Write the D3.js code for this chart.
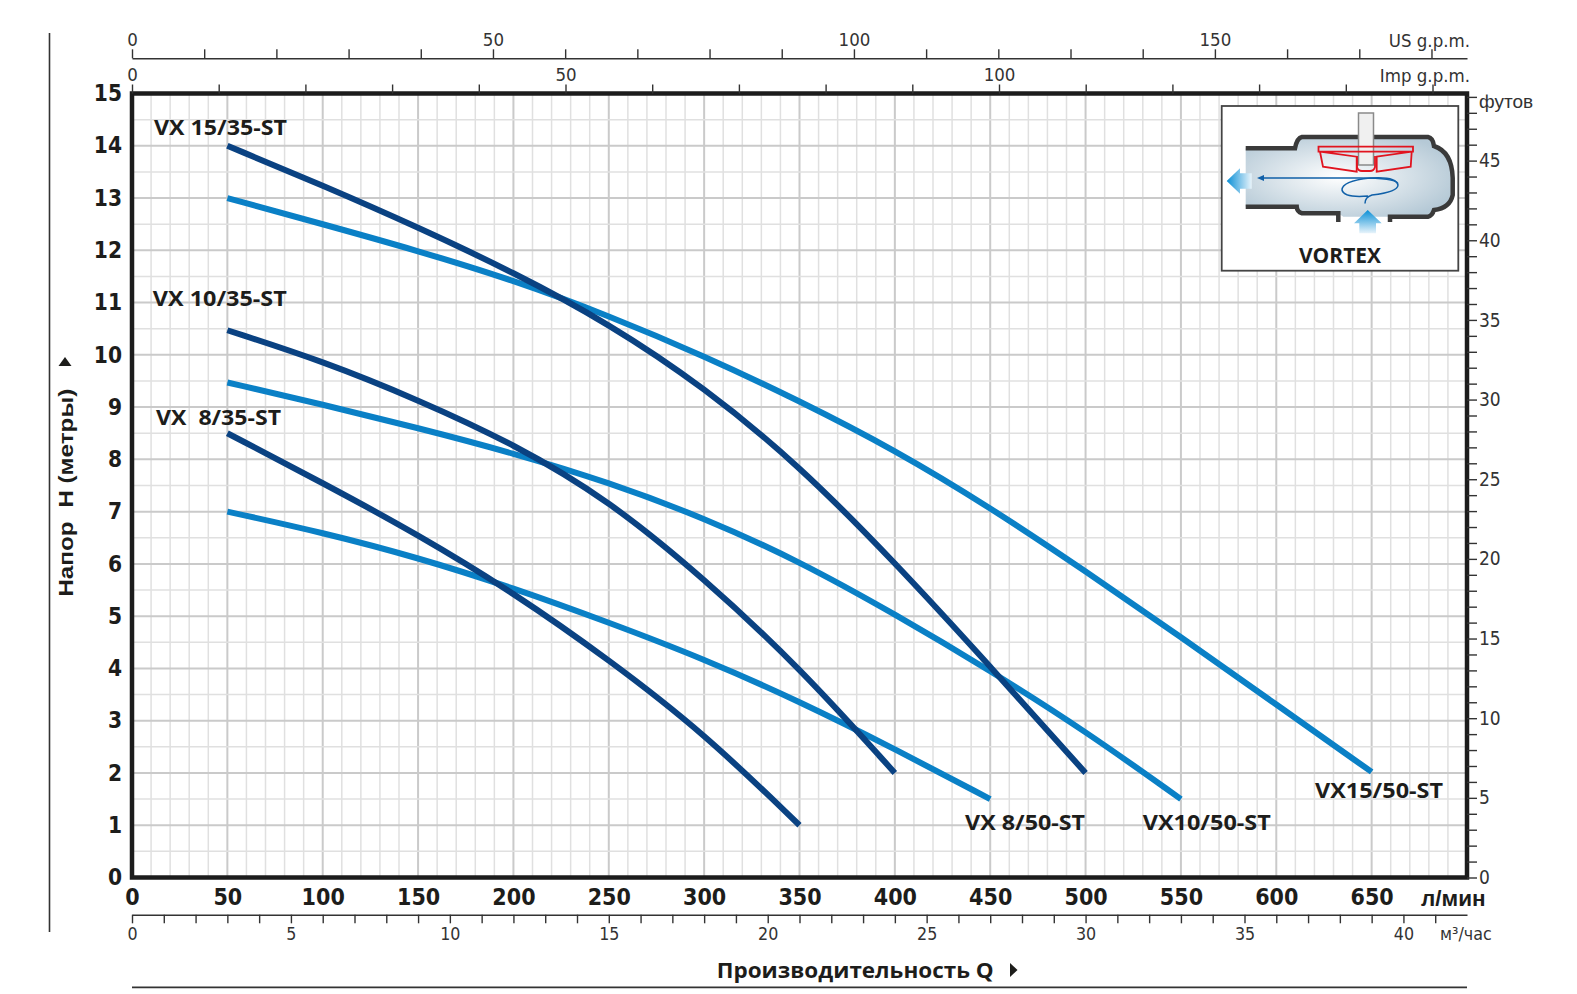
<!DOCTYPE html>
<html><head><meta charset="utf-8">
<script src="https://cdn.jsdelivr.net/npm/d3@7"></script>
<style>
body{margin:0;background:#fff;}
svg{display:block;}
.narrow{font-family:'Liberation Sans Narrow','Arial Narrow','DejaVu Sans Condensed',sans-serif;}
.pre{white-space:pre;}
</style></head>
<body><svg id="c" width="1577" height="994"></svg>
<script>
// ---------- data (flow in l/min, head in m) ----------
const qVX15_35 = [50,100,150,200,250,300,350,400,450,500];
const hVX15_35 = [14.0,13.24,12.44,11.58,10.6,9.38,7.88,6.03,4.04,2.0];
const qVX15_50 = [50,100,150,200,250,300,350,400,450,500,550,600,650];
const hVX15_50 = [13.0,12.5,11.99,11.43,10.75,9.98,9.12,8.18,7.08,5.86,4.6,3.31,2.02];
const qVX10_35 = [50,100,150,200,250,300,350,400];
const hVX10_35 = [10.47,9.88,9.14,8.3,7.22,5.72,4.02,2.0];
const qVX10_50 = [50,100,150,200,250,300,350,400,450,500,550];
const hVX10_50 = [9.47,9.05,8.6,8.12,7.56,6.88,6.05,5.04,3.96,2.8,1.5];
const qVX8_35 = [50,100,150,200,250,300,350];
const hVX8_35 = [8.5,7.55,6.56,5.45,4.17,2.76,1.0];
const qVX8_50 = [50,100,150,200,250,300,350,400,450];
const hVX8_50 = [7.0,6.6,6.12,5.54,4.88,4.18,3.37,2.46,1.5];

const seriesNames = ["VX15/50-ST","VX10/50-ST","VX 8/50-ST","VX 15/35-ST","VX 10/35-ST","VX  8/35-ST"];
const yTicksM = d3.range(0,16,1);
const xTicksLmin = d3.range(0,651,50);
const usTickLabels = [0,50,100,150];
const impTickLabels = [0,50,100];
const m3TickLabels = [0,5,10,15,20,25,30,35,40];
const ftTickLabels = [0,5,10,15,20,25,30,35,40,45];

const DARK = "#0a4282", LIGHT = "#0a80c6";

// ---------- scales ----------
const X0=132, X1=1467, Y0=877.5, Y1=93.5;
const x = d3.scaleLinear().domain([0,700]).range([X0,X1]);
const y = d3.scaleLinear().domain([0,15]).range([Y0,Y1]);
const yFt = d3.scaleLinear().domain([0,15/0.3048]).range([Y0,Y1]);
const xUS = d3.scaleLinear().domain([0,700/3.78541]).range([X0,X1]);
const xImp = d3.scaleLinear().domain([0,700/4.54609]).range([X0,X1]);
const xM3 = d3.scaleLinear().domain([0,700*60/1000]).range([X0,X1]);

const svg = d3.select("#c");
svg.append("rect").attr("width",1577).attr("height",994).attr("fill","#fff");

// ---------- grid ----------
const grid = svg.append("g");
d3.range(10,700,10).forEach(v=>{
  const major = v%50===0;
  grid.append("line").attr("x1",x(v)).attr("x2",x(v)).attr("y1",Y1).attr("y2",Y0)
    .attr("stroke",major?"#cacaca":"#e0e0e0").attr("stroke-width",major?2:1.5);
});
d3.range(0.5,15,0.5).forEach(v=>{
  const major = Number.isInteger(v);
  grid.append("line").attr("x1",X0).attr("x2",X1).attr("y1",y(v)).attr("y2",y(v))
    .attr("stroke",major?"#cacaca":"#e0e0e0").attr("stroke-width",major?2:1.5);
});

// ---------- curves ----------
const line = d3.line().x(d=>x(d.q)).y(d=>y(d.h)).curve(d3.curveBasis);
const zipS = (q,h)=>q.map((v,i)=>({q:v,h:h[i]}));
const curves = [
  {d:zipS(qVX15_50,hVX15_50),c:LIGHT},
  {d:zipS(qVX10_50,hVX10_50),c:LIGHT},
  {d:zipS(qVX8_50,hVX8_50),c:LIGHT},
  {d:zipS(qVX15_35,hVX15_35),c:DARK},
  {d:zipS(qVX10_35,hVX10_35),c:DARK},
  {d:zipS(qVX8_35,hVX8_35),c:DARK}
];
svg.append("g").selectAll("path").data(curves).join("path")
  .attr("d",d=>line(d.d)).attr("fill","none").attr("stroke",d=>d.c)
  .attr("stroke-width",6).attr("stroke-linecap","butt");

// ---------- curve labels (anchored in data space) ----------
const labelPos = [
  {t:seriesNames[0],q:620.3,h:1.52,w:128},
  {t:seriesNames[1],q:530,h:0.914,w:128},
  {t:seriesNames[2],q:436.8,h:0.914,w:120},
  {t:seriesNames[3],q:11.5,h:14.21,w:133},
  {t:seriesNames[4],q:10.9,h:10.93,w:134},
  {t:seriesNames[5],q:12.6,h:8.66,w:125}
];
svg.append("g").selectAll("text").data(labelPos).join("text")
  .attr("class","pre")
  .attr("x",d=>x(d.q)).attr("y",d=>y(d.h))
  .attr("font-family","'Open Sans',sans-serif").attr("font-weight","bold")
  .attr("font-size",22).attr("fill","#1d1d1b")
  .attr("textLength",d=>d.w).attr("lengthAdjust","spacingAndGlyphs")
  .text(d=>d.t);

// ---------- plot border ----------
svg.append("rect").attr("x",X0).attr("y",Y1).attr("width",X1-X0).attr("height",Y0-Y1)
  .attr("fill","none").attr("stroke","#1c1c1c").attr("stroke-width",4.5);

// ---------- axes ----------
function styleAxis(g,fs,weight,col){
  g.selectAll("text").attr("class","narrow").attr("font-size",fs).attr("font-weight",weight).attr("fill",col||"#1d1d1b").attr("font-family",null);
  g.selectAll(".tick line").attr("stroke","#333").attr("stroke-width",1.4);
}
// bottom l/min
const gx = svg.append("g").attr("transform",`translate(0,${Y0})`)
  .call(d3.axisBottom(x).tickValues(xTicksLmin).tickSize(0).tickPadding(11));
gx.select(".domain").remove();
styleAxis(gx,23,"bold");
svg.append("text").attr("x",1421).attr("y",906).attr("font-family","'Liberation Sans',Arial,sans-serif")
  .attr("font-weight","bold").attr("font-size",22.5).attr("fill","#1d1d1b").text("л/мин");

// left m
const gy = svg.append("g").attr("transform",`translate(${X0},0)`)
  .call(d3.axisLeft(y).tickValues(yTicksM).tickSize(0).tickPadding(10).tickFormat(d3.format("d")));
gy.select(".domain").remove();
styleAxis(gy,22.5,"bold");

// right feet
const gf = svg.append("g").attr("transform",`translate(${X1},0)`)
  .call(d3.axisRight(yFt).tickValues(d3.range(0,50,1)).tickSize(10).tickPadding(2)
    .tickFormat(d=>ftTickLabels.includes(d)?String(d):""));
gf.select(".domain").remove();
styleAxis(gf,19,"normal","#333");
gf.append("text").attr("x",12).attr("y",yFt(49)).attr("dy","0.6em")
  .attr("font-family","'Liberation Sans',Arial,sans-serif").attr("font-size",19).attr("fill","#333").text("футов");

// top US gpm
const gus = svg.append("g").attr("transform","translate(0,58.3)")
  .call(d3.axisTop(xUS).tickValues(d3.range(0,181,10)).tickSize(9).tickSizeOuter(0).tickPadding(3)
    .tickFormat(d=>usTickLabels.includes(d)?String(d):""));
gus.select(".domain").attr("stroke","#333").attr("stroke-width",1.4);
styleAxis(gus,18.5,"normal","#333");
svg.append("text").attr("class","narrow").attr("x",1470).attr("y",46.5).attr("text-anchor","end")
  .attr("font-size",18.5).attr("fill","#333").text("US g.p.m.");

// top Imp gpm
const gimp = svg.append("g").attr("transform",`translate(0,${Y1})`)
  .call(d3.axisTop(xImp).tickValues(d3.range(0,151,10)).tickSize(9).tickSizeOuter(0).tickPadding(3.5)
    .tickFormat(d=>impTickLabels.includes(d)?String(d):""));
gimp.select(".domain").remove();
styleAxis(gimp,18.5,"normal","#333");
svg.append("text").attr("class","narrow").attr("x",1470).attr("y",81.5).attr("text-anchor","end")
  .attr("font-size",18.5).attr("fill","#333").text("Imp g.p.m.");

// bottom m3/h
const gm3 = svg.append("g").attr("transform","translate(0,914.7)")
  .call(d3.axisBottom(xM3).tickValues(d3.range(0,42,1)).tickSize(8.6).tickSizeOuter(0).tickPadding(3.7)
    .tickFormat(d=>m3TickLabels.includes(d)?String(d):""));
gm3.select(".domain").attr("stroke","#333").attr("stroke-width",1.4);
styleAxis(gm3,17.7,"normal","#333");
svg.append("text").attr("class","narrow").attr("x",1440).attr("y",939.6)
  .attr("font-size",17.7).attr("fill","#333").text("м³/час");

// ---------- titles & frame lines ----------
svg.append("line").attr("x1",49.5).attr("x2",49.5).attr("y1",33).attr("y2",932).attr("stroke","#333").attr("stroke-width",1.6);
svg.append("line").attr("x1",X0).attr("x2",X1).attr("y1",987.3).attr("y2",987.3).attr("stroke","#333").attr("stroke-width",1.8);

svg.append("text").attr("x",716.7).attr("y",978).attr("font-family","'Open Sans',sans-serif")
  .attr("font-weight","bold").attr("font-size",22).attr("fill","#1d1d1b")
  .attr("textLength",277).attr("lengthAdjust","spacingAndGlyphs").text("Производительность Q");
svg.append("path").attr("d","M1010,963 L1017.5,970 L1010,977 Z").attr("fill","#1d1d1b");

svg.append("text").attr("class","pre").attr("transform","translate(72.5,596.7) rotate(-90)")
  .attr("font-family","'Liberation Sans',Arial,sans-serif").attr("font-weight","bold")
  .attr("font-size",21).attr("fill","#1d1d1b")
  .attr("textLength",208).attr("lengthAdjust","spacingAndGlyphs").text("Напор  H (метры)");
svg.append("path").attr("d","M58.5,366 L65,357 L71.5,366 Z").attr("fill","#1d1d1b");

// ---------- VORTEX inset ----------
const defs = svg.append("defs");
const rg = defs.append("radialGradient").attr("id","body").attr("cx","0.45").attr("cy","0.5").attr("r","0.6");
rg.append("stop").attr("offset","0").attr("stop-color","#ffffff");
rg.append("stop").attr("offset","1").attr("stop-color","#b5c9d6");
const ag = defs.append("linearGradient").attr("id","arrL").attr("x1","0").attr("x2","1").attr("y1","0").attr("y2","0");
ag.append("stop").attr("offset","0").attr("stop-color","#0a8fd6");
ag.append("stop").attr("offset","1").attr("stop-color","#e8f4fb");
const ag2 = defs.append("linearGradient").attr("id","arrU").attr("x1","0").attr("x2","0").attr("y1","0").attr("y2","1");
ag2.append("stop").attr("offset","0").attr("stop-color","#0a8fd6");
ag2.append("stop").attr("offset","1").attr("stop-color","#e8f4fb");

const ins = svg.append("g");
ins.append("rect").attr("x",1221.7).attr("y",106).attr("width",236.6).attr("height",164.7)
  .attr("fill","#fff").attr("stroke","#444").attr("stroke-width",1.8);
ins.append("path").attr("d","M1245.7,148.3 L1295,148.3 Q1297,138 1302,137 L1428,137 Q1433,138 1434,146 Q1452,152 1452.7,178 L1452.7,195 Q1450,208 1434,210 Q1432,216 1428,216.7 L1390,216.7 L1343.3,216.7 L1338.3,213.3 L1302,213.3 Q1297,212 1296.7,206.7 L1245.7,206.7 Z")
  .attr("fill","url(#body)");
ins.append("path").attr("d","M1245.7,148.3 L1295,148.3 Q1297,138 1302,137 L1428,137 Q1433,138 1434,146 Q1452,152 1452.7,178 L1452.7,195 Q1450,208 1434,210 Q1432,216 1428,216.7 L1390,216.7 L1390,222")
  .attr("fill","none").attr("stroke","#3a3a3a").attr("stroke-width",4.5);
ins.append("path").attr("d","M1245.7,206.7 L1296.7,206.7 Q1297,212 1302,213.3 L1338.3,213.3 L1338.3,222")
  .attr("fill","none").attr("stroke","#3a3a3a").attr("stroke-width",4.5);
ins.append("rect").attr("x",1358.5).attr("y",113).attr("width",15).attr("height",52)
  .attr("fill","#f0f0f0").attr("stroke","#8a8a8a").attr("stroke-width",1.5);
ins.append("path").attr("d","M1318.5,146.7 L1413,146.7 L1413,151.7 L1318.5,151.7 Z M1320,151.7 L1356.7,156.7 L1356.7,171.7 L1323,166.7 Z M1376.7,156.7 L1411.7,151.7 L1410.7,166.7 L1376.7,171.7 Z")
  .attr("fill","none").attr("stroke","#e1141f").attr("stroke-width",1.8);
ins.append("path").attr("d","M1357,156 L1357,167 Q1358,171 1362,171 L1370,171 Q1374,171 1375,167 L1375,156")
  .attr("fill","none").attr("stroke","#e1141f").attr("stroke-width",1.8);
ins.append("path").attr("d","M1398,183.5 Q1395,178 1360,178 L1262,178")
  .attr("fill","none").attr("stroke","#1060a8").attr("stroke-width",1.5);
ins.append("path").attr("d","M1257,178 L1264,175 L1264,181 Z").attr("fill","#1060a8");
ins.append("path").attr("d","M1365,203.5 Q1365,197 1372,195 Q1398,192 1398,185 Q1396,176 1370,178 Q1342,181 1342,190 Q1344,198 1368,196")
  .attr("fill","none").attr("stroke","#1060a8").attr("stroke-width",1.5);
ins.append("path").attr("d","M1226.7,181 L1240,168.3 L1240,173.3 L1251.7,173.3 L1251.7,188.7 L1240,188.7 L1240,193.7 Z")
  .attr("fill","url(#arrL)");
ins.append("path").attr("d","M1367.7,210 L1381.7,223.3 L1376,223.3 L1376,233.3 L1359.3,233.3 L1359.3,223.3 L1354,223.3 Z")
  .attr("fill","url(#arrU)");
ins.append("text").attr("x",1340).attr("y",262.5).attr("text-anchor","middle")
  .attr("font-family","'Open Sans',sans-serif").attr("font-weight","bold").attr("font-size",21)
  .attr("fill","#1d1d1b").text("VORTEX");
</script></body></html>
